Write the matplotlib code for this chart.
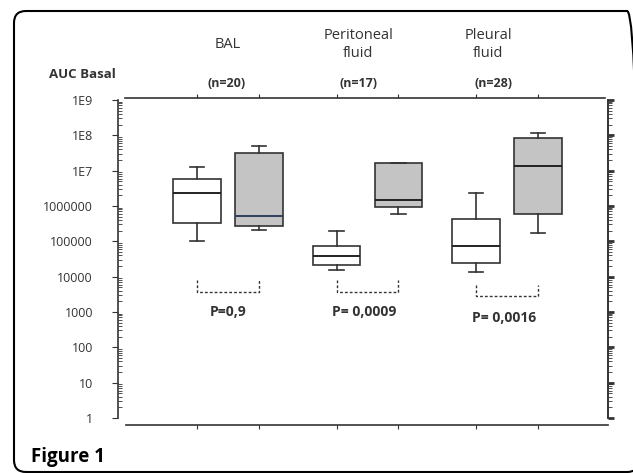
import matplotlib
matplotlib.use("Agg")
import matplotlib.pyplot as plt
from matplotlib.patches import FancyBboxPatch
from matplotlib.transforms import IdentityTransform

plt.rcParams['font.family'] = ['Open Sans', 'DejaVu Sans']

# box statistics (AUC basal), white = first group, grey = second group
positions = [1, 2, 3.25, 4.25, 5.5, 6.5]
whislo = [1.0e5, 2.1e5, 1.55e4, 5.8e5, 1.4e4, 1.7e5]
q1 = [3.3e5, 2.7e5, 2.2e4, 9.5e5, 2.4e4, 5.8e5]
med = [2.3e6, 5.2e5, 3.8e4, 1.48e6, 7.4e4, 1.35e7]
q3 = [6.0e6, 3.2e7, 7.4e4, 1.7e7, 4.2e5, 8.3e7]
whishi = [1.3e7, 5.0e7, 2.0e5, 1.7e7, 2.4e6, 1.15e8]
fills = ['white', '#c4c4c4', 'white', '#c4c4c4', 'white', '#c4c4c4']
med_colors = ['#222222', '#2e3f5e', '#222222', '#222222', '#222222', '#222222']

groups = ['BAL', 'Peritoneal\nfluid', 'Pleural\nfluid']
group_x = [1.5, 3.6, 5.7]
n_labels = ['(n=20)', '(n=17)', '(n=28)']
n_x = [1.47, 3.6, 5.78]
p_labels = ['P=0,9', 'P= 0,0009', 'P= 0,0016']
p_x = [1.5, 3.7, 5.95]
p_y = [1.0e3, 1.0e3, 6.8e2]
bracket_top = [8.1e3, 8.1e3, 5.8e3]
bracket_bot = [3.7e3, 3.7e3, 2.8e3]

ytick_vals = [1, 10, 100, 1000, 10000, 100000, 1000000, 1e7, 1e8, 1e9]
ytick_labels = ['1', '10', '100', '1000', '10000', '100000', '1000000', '1E7', '1E8', '1E9']

fig = plt.figure(figsize=(6.33, 4.73), dpi=100)
ax = fig.add_axes([118/633, 1-418/473, 490/633, 318/473])

stats = []
for i in range(len(positions)):
    stats.append({'whislo': whislo[i], 'q1': q1[i], 'med': med[i], 'q3': q3[i],
                  'whishi': whishi[i], 'fliers': []})

bp = ax.bxp(stats, positions=positions, widths=0.76, patch_artist=True,
            showfliers=False, capwidths=0.23,
            boxprops=dict(edgecolor='#333333', linewidth=1.2),
            whiskerprops=dict(color='#333333', linewidth=1.2),
            capprops=dict(color='#333333', linewidth=1.2),
            medianprops=dict(linewidth=1.4))
for patch, c in zip(bp['boxes'], fills):
    patch.set_facecolor(c)
for m, c in zip(bp['medians'], med_colors):
    m.set_color(c)

ax.set_yscale('log')
ax.set_ylim(1, 1e9)
ax.set_xlim(1 + (118-197)/62, 1 + (608-197)/62)

# spines
ax.spines['top'].set_position(('outward', 1.5))
ax.spines['top'].set_bounds(1 + (125-197)/62, 1 + (605-197)/62)
ax.spines['bottom'].set_position(('outward', 5))
ax.spines['bottom'].set_bounds(1 + (126-197)/62, 1 + (608-197)/62)
for s in ax.spines.values():
    s.set_color('#333333')
    s.set_linewidth(1.2)

ax.set_xticks(positions)
ax.tick_params(axis='x', top=True, bottom=True, direction='out', length=3,
               labelbottom=False, color='#333333')
ax.set_yticks(ytick_vals)
ax.set_yticklabels(ytick_labels)
ax.yaxis.set_minor_locator(matplotlib.ticker.LogLocator(base=10, subs=range(2, 10), numticks=20))
ax.yaxis.set_minor_formatter(matplotlib.ticker.NullFormatter())
ax.tick_params(axis='y', which='major', direction='out', length=4, pad=14,
               labelsize=9, labelcolor='#333333', right=False, color='#333333')
ax.tick_params(axis='y', which='minor', direction='in', length=3, right=False, color='#333333')

# right axis with outward ticks
ax2 = ax.twinx()
ax2.set_yscale('log')
ax2.set_ylim(1, 1e9)
ax2.set_yticks(ytick_vals)
ax2.set_yticklabels([])
ax2.yaxis.set_minor_locator(matplotlib.ticker.LogLocator(base=10, subs=range(2, 10), numticks=20))
ax2.yaxis.set_minor_formatter(matplotlib.ticker.NullFormatter())
ax2.tick_params(axis='y', which='major', direction='out', length=4, width=2, color='#333333')
ax2.tick_params(axis='y', which='minor', direction='out', length=3, color='#333333')
for k in ['top', 'bottom', 'left']:
    ax2.spines[k].set_visible(False)
ax2.spines['right'].set_color('#333333')
ax2.spines['right'].set_linewidth(1.2)

# brackets and p values
for i in range(3):
    x1 = positions[2*i]
    x2 = positions[2*i+1]
    ax.plot([x1, x1, x2, x2], [bracket_top[i], bracket_bot[i], bracket_bot[i], bracket_top[i]],
            color='#333333', linestyle=(0, (2, 1.5)), linewidth=1)
    ax.text(p_x[i], p_y[i], p_labels[i], ha='center', va='center', fontsize=10,
            fontweight='bold', color='#333333')

# group labels above
for i in range(3):
    ax.text(group_x[i], 10**10.57, groups[i], ha='center', va='center', fontsize=10.5,
            color='#333333', linespacing=1.2, clip_on=False)
    ax.text(n_x[i], 10**9.48, n_labels[i], ha='center', va='center', fontsize=9,
            fontweight='bold', color='#333333', clip_on=False)
ax.text(-0.855, 10**9.71, 'AUC Basal', ha='center', va='center', fontsize=9.5,
        fontweight='bold', color='#333333', clip_on=False)

# frame and caption
frame = FancyBboxPatch((14, 1), 625, 461, boxstyle='round,pad=0,rounding_size=12',
                       transform=IdentityTransform(), fill=False, edgecolor='black',
                       linewidth=1.5, clip_on=False)
fig.patches.append(frame)
fig.text(31/633, 1-457/473, 'Figure 1', fontsize=13.5, fontweight='bold', va='center')

fig.savefig('out.png', dpi=100)
